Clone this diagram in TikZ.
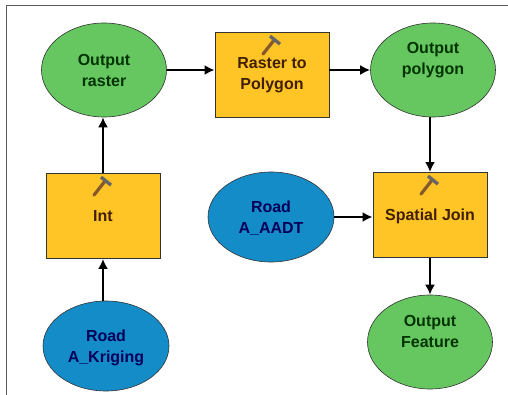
\documentclass[tikz,border=0pt]{standalone}
\usepackage{fontspec}
\setmainfont{Liberation Sans}
\usepackage{xcolor}
\usetikzlibrary{shapes,arrows.meta}
\definecolor{toolfill}{RGB}{255,196,38}
\definecolor{outfill}{RGB}{102,199,96}
\definecolor{datafill}{RGB}{20,140,200}

\begin{document}
\begin{tikzpicture}[x=1pt, y=-1pt, node distance = 100pt, auto]
	\tikzstyle{tool} = [rectangle, draw=black!80, fill=toolfill, line width=0.8pt, minimum width=114pt, minimum height=85pt, align=center, font=\bfseries\fontsize{16}{21.5}\selectfont, text=black!75!orange]
	\tikzstyle{output} = [ellipse, draw=black!80, fill=outfill, line width=0.6pt, minimum width=125pt, minimum height=94pt, inner sep=0pt, align=center, font=\bfseries\fontsize{16}{21}\selectfont, text=black!80!green]
	\tikzstyle{data} = [ellipse, draw=black!80, fill=datafill, line width=0.6pt, minimum width=126pt, minimum height=90pt, inner sep=0pt, align=center, text depth=0pt, font=\bfseries\fontsize{16}{21}\selectfont, text=blue!35!black]
	\tikzstyle{line} = [draw, -{Latex[length=10pt,width=10pt]}, line width=2pt]
	\tikzstyle{handle} = [line width=3.2pt, brown!70!black, line cap=round]
	\tikzstyle{head} = [line width=3.4pt, black!60]
	\useasboundingbox (0,0) rectangle (508,395);
	\draw [line width=1pt, black!65] (6,395) -- (6,6) -- (508,6);
	% Place nodes
	\node [output] (raster) at (104,70) {Output\\raster};
	\node [tool] (rtp) at (272,75) {Raster to\\Polygon};
	\node [output, text depth=24pt] (polygon) at (433,70) {Output\\polygon};
	\node [tool] (int) at (103,216) {Int};
	\node [data] (aadt) at (271,217) {Road\\A\_AADT};
	\node [tool, text depth=0pt] (join) at (430,215) {Spatial Join};
	\node [data] (kriging) at (106,346) {Road\\A\_Kriging};
	\node [output, text depth=21pt] (feature) at (430,342) {Output\\Feature};
	% Draw edges
	\path [line] (int.south |- kriging.north) -- (int.south);
	\path [line] (int.north) -- (int.north |- raster.south);
	\path [line] (raster.east) -- (raster.east -| rtp.west);
	\path [line] (rtp.east |- polygon.west) -- (polygon.west);
	\path [line] (join.north |- polygon.south) -- (join.north);
	\path [line] (aadt.east) -- (aadt.east -| join.west);
	\path [line] (join.south) -- (join.south |- feature.north);
	% Hammers
	\foreach \tool in {rtp, int, join} {
		\draw [handle] ([shift={(-9,22)}]\tool.north) -- ([shift={(2,8)}]\tool.north);
		\draw [head] ([shift={(-2,4)}]\tool.north) -- ([shift={(8,12)}]\tool.north);
	}
\end{tikzpicture}
\end{document}
